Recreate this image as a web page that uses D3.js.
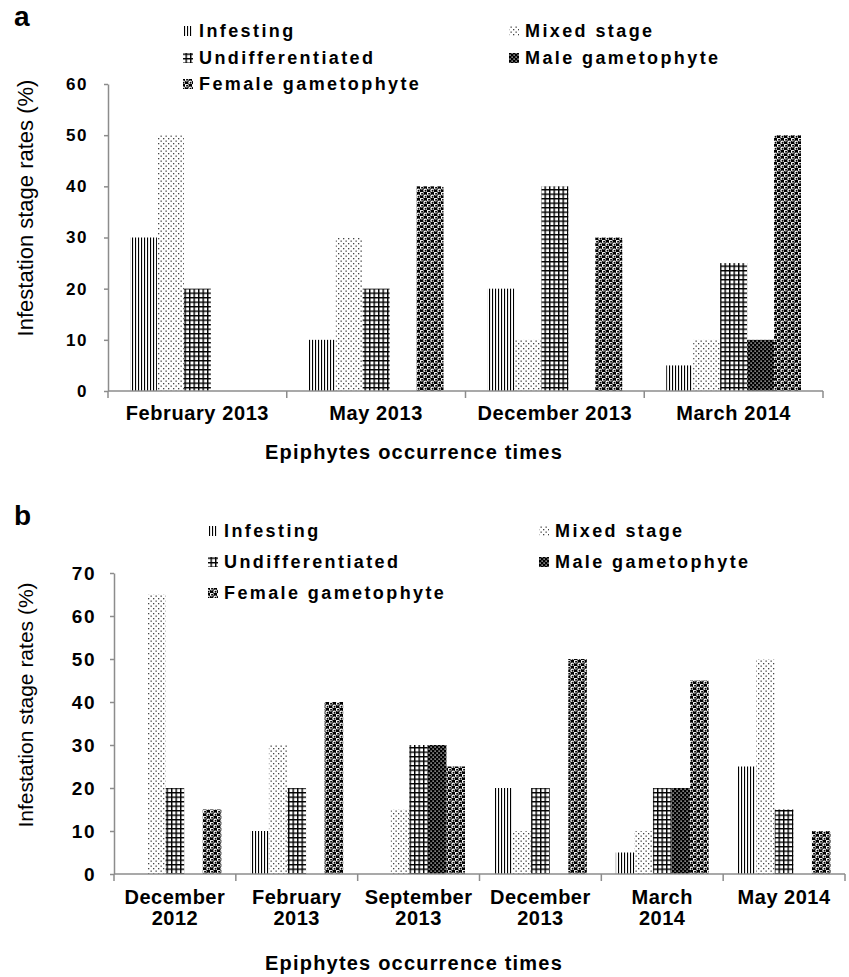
<!DOCTYPE html>
<html>
<head>
<meta charset="utf-8">
<script src="https://cdn.jsdelivr.net/npm/d3@7"></script>
<style>
  body { margin: 0; background: #fff; }
  svg { display: block; }
  text { font-family: "Liberation Sans", Arial, sans-serif; fill: #000; }
</style>
</head>
<body>
<svg id="canvas" width="849" height="977"></svg>
<script>
// series names (legend order) and pattern ids
var series = ["Infesting", "Mixed stage", "Undifferentiated", "Male gametophyte", "Female gametophyte"];
var patternIds = ["p_inf", "p_mix", "p_und", "p_male", "p_fem"];

// panel a
var catsA = [["February 2013"], ["May 2013"], ["December 2013"], ["March 2014"]];
var infestingA = [30, 10, 20, 5];
var mixedA = [50, 30, 10, 10];
var undiffA = [20, 20, 40, 25];
var maleA = [0, 0, 0, 10];
var femaleA = [0, 40, 30, 50];
var ticksA = [0, 10, 20, 30, 40, 50, 60];

// panel b
var catsB = [["December", "2012"], ["February", "2013"], ["September", "2013"], ["December", "2013"], ["March", "2014"], ["May 2014"]];
var infestingB = [0, 10, 0, 20, 5, 25];
var mixedB = [65, 30, 15, 10, 10, 50];
var undiffB = [20, 20, 30, 20, 20, 15];
var maleB = [0, 0, 30, 0, 20, 0];
var femaleB = [15, 40, 25, 50, 45, 10];
var ticksB = [0, 10, 20, 30, 40, 50, 60, 70];

var svg = d3.select('#canvas');
var axisColor = '#8c8c8c';

d3.selection.prototype.attrs = function(o){ for (var k in o) this.attr(k, o[k]); return this; };

// ************************************************************************************** //
// Patterns

var defs = svg.append('defs');

function pattern(id, w, h){
  return defs.append('pattern').attrs({ id: id, width: w, height: h, patternUnits: 'userSpaceOnUse' });
}

var p = pattern('p_inf', 3, 3);
p.append('rect').attrs({ width: 3, height: 3, fill: '#fff' });
p.append('rect').attrs({ x: 0, y: 0, width: 1.1, height: 3, fill: '#000' });

p = pattern('p_mix', 5, 5);
p.append('rect').attrs({ width: 5, height: 5, fill: '#fff' });
p.append('rect').attrs({ x: 0.5, y: 0.5, width: 1.3, height: 1.3, fill: '#444' });
p.append('rect').attrs({ x: 3, y: 3, width: 1.3, height: 1.3, fill: '#444' });

p = pattern('p_und', 4.5, 4.5);
p.append('rect').attrs({ width: 4.5, height: 4.5, fill: '#fff' });
p.append('rect').attrs({ x: 0, y: 0, width: 1.4, height: 4.5, fill: '#000' });
p.append('rect').attrs({ x: 0, y: 0, width: 4.5, height: 1.4, fill: '#000' });

p = pattern('p_male', 4, 4);
p.append('rect').attrs({ width: 4, height: 4, fill: '#000' });
p.append('rect').attrs({ x: 0.5, y: 0.5, width: 1.2, height: 1.2, fill: '#fff' });
p.append('rect').attrs({ x: 2.5, y: 2.5, width: 1.2, height: 1.2, fill: '#fff' });

p = pattern('p_fem', 7, 6);
p.append('rect').attrs({ width: 7, height: 6, fill: '#000' });
[[1.75, 1.5], [5.25, 4.5]].forEach(function(c){
  p.append('circle').attrs({ cx: c[0], cy: c[1], r: 1.9, fill: '#fff' });
  p.append('circle').attrs({ cx: c[0] + 0.3, cy: c[1] + 0.3, r: 1.0, fill: '#000' });
});

// ************************************************************************************** //
// Panel

function drawPanel(cfg){
  var g = svg.append('g');
  var n = cfg.cats.length;
  var idx = d3.range(n);

  var x = d3.scaleBand().domain(idx).range([cfg.x0, cfg.x1]).padding(0);
  var xs = d3.scaleBand().domain(d3.range(series.length)).range([cfg.pad, x.bandwidth() - cfg.pad]).padding(0);
  var y = d3.scaleLinear().domain([0, d3.max(cfg.ticks)]).range([cfg.y0, cfg.y1]);

  // bars
  cfg.values.forEach(function(vals, s){
    g.append('g').selectAll('rect').data(vals).enter().append('rect')
      .attrs({ x: function(d, i){ return x(i) + xs(s); }, width: xs.bandwidth(),
               y: function(d){ return y(d); }, height: function(d){ return y(0) - y(d); },
               fill: 'url(#' + patternIds[s] + ')' });
  });

  // y axis
  var yAxis = g.append('g').attr('transform', 'translate(' + cfg.x0 + ',0)')
    .call(d3.axisLeft(y).tickValues(cfg.ticks).tickSize(4).tickPadding(cfg.yPad).tickSizeOuter(0));
  yAxis.select('.domain').attr('stroke', axisColor).attr('stroke-width', 1.5);
  yAxis.selectAll('.tick line').attr('stroke', axisColor).attr('stroke-width', 1.5);
  yAxis.selectAll('.tick text').attrs({ 'font-size': cfg.yFont, 'font-weight': 'bold', 'letter-spacing': 1.5, fill: '#000' })
    .style('font-family', '"Liberation Sans", Arial, sans-serif');

  // x axis line with ticks at band edges
  var xg = g.append('g');
  xg.append('line').attrs({ x1: cfg.x0, x2: cfg.x1, y1: y(0), y2: y(0), stroke: axisColor, 'stroke-width': 1.5 });
  xg.selectAll('.edge').data(d3.range(n + 1)).enter().append('line')
    .attrs({ x1: function(i){ return i < n ? x(i) : cfg.x1; }, x2: function(i){ return i < n ? x(i) : cfg.x1; },
             y1: y(0), y2: y(0) + 7, stroke: axisColor, 'stroke-width': 1.5 });

  // category labels
  var lab = xg.selectAll('.lab').data(cfg.cats).enter().append('text')
    .attrs({ 'text-anchor': 'middle', 'font-size': 20, 'font-weight': 'bold', 'letter-spacing': cfg.xLs });
  lab.each(function(lines, i){
    var t = d3.select(this);
    lines.forEach(function(l, k){
      t.append('tspan').attrs({ x: x(i) + x.bandwidth() / 2, y: cfg.labY + k * cfg.labGap }).text(l);
    });
  });

  // axis titles
  g.append('text').attrs({ transform: 'translate(' + cfg.ytX + ',' + cfg.ytY + ') rotate(-90)', 'text-anchor': 'middle', 'font-size': cfg.ytFont })
    .text('Infestation stage rates (%)');
  g.append('text').attrs({ x: 414, y: cfg.xtY, 'text-anchor': 'middle', 'font-size': 20, 'font-weight': 'bold', 'letter-spacing': 1.2 })
    .text('Epiphytes occurrence times');

  // panel letter
  g.append('text').attrs({ x: 14, y: cfg.letterY, 'font-size': 28, 'font-weight': 'bold' }).text(cfg.letter);

  // legend
  var leg = g.selectAll('.leg').data(series).enter().append('g')
    .attr('transform', function(d, i){ return 'translate(' + cfg.legX[i] + ',' + cfg.legY[i] + ')'; });
  leg.append('rect').attrs({ x: -16, y: -5, width: 10, height: 10, fill: function(d, i){ return 'url(#' + patternIds[i] + ')'; } });
  leg.append('text').attrs({ x: 0, dy: '0.36em', 'font-size': 18, 'font-weight': 'bold', 'letter-spacing': 2.4 })
    .text(function(d){ return d; });
}

drawPanel({
  letter: 'a', letterY: 26,
  cats: catsA, values: [infestingA, mixedA, undiffA, maleA, femaleA], ticks: ticksA,
  x0: 108, x1: 823, y0: 391, y1: 84, pad: 22,
  yPad: 16, yFont: 17, xLs: 0.6, labY: 420, labGap: 21,
  ytX: 33, ytY: 208, ytFont: 22, xtY: 459,
  legX: [199, 525, 199, 525, 199], legY: [31, 31, 58, 58, 84]
});

drawPanel({
  letter: 'b', letterY: 525,
  cats: catsB, values: [infestingB, mixedB, undiffB, maleB, femaleB], ticks: ticksB,
  x0: 114, x1: 845, y0: 874, y1: 573, pad: 14.5,
  yPad: 14, yFont: 19, xLs: 0.5, labY: 904, labGap: 21,
  ytX: 33, ytY: 705, ytFont: 21, xtY: 970,
  legX: [224, 555, 224, 555, 224], legY: [531, 531, 562, 562, 593]
});
</script>
</body>
</html>
